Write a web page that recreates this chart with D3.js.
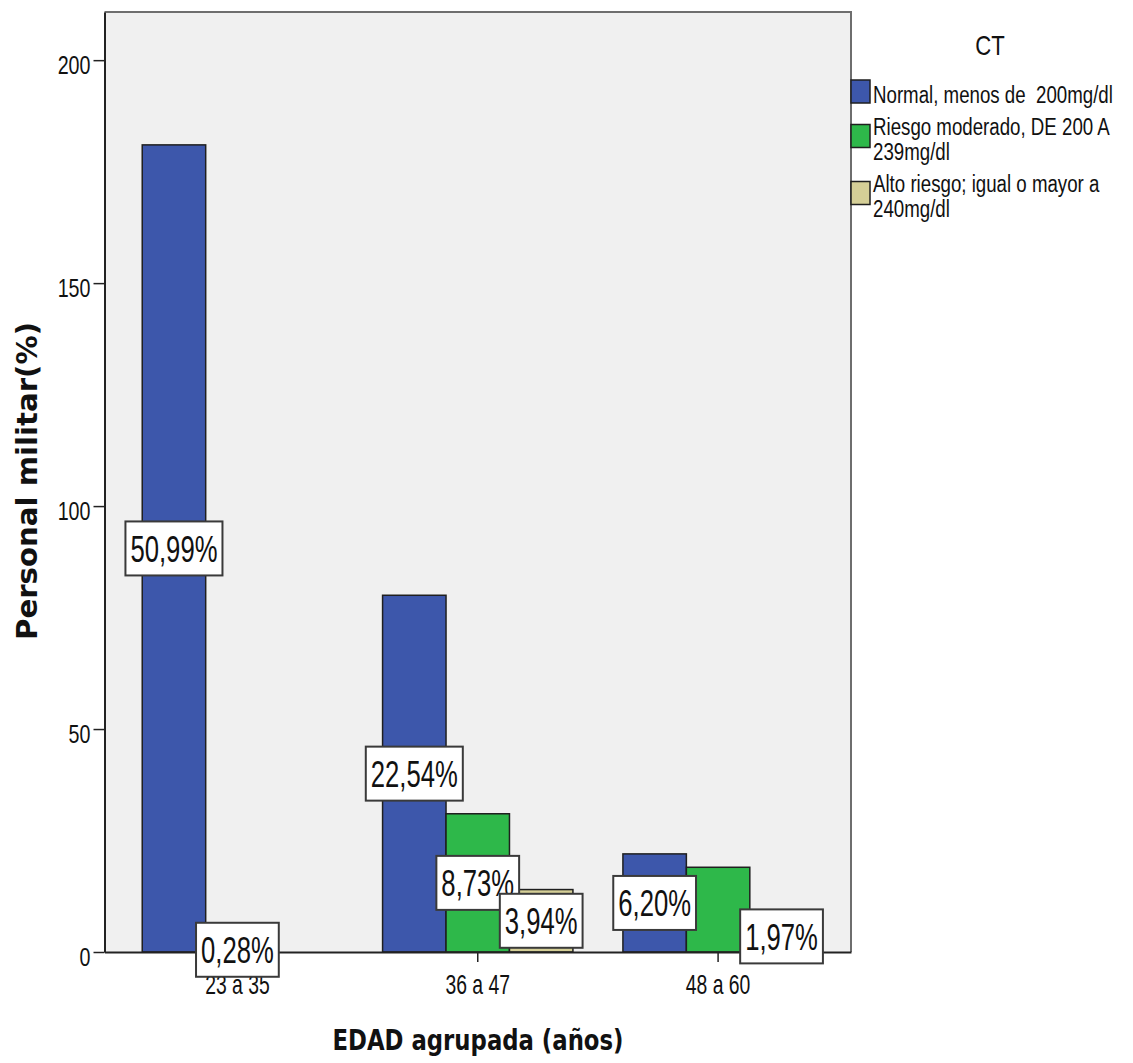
<!DOCTYPE html>
<html>
<head>
<meta charset="utf-8">
<script src="https://cdn.jsdelivr.net/npm/d3@7"></script>
<style>
  html, body { margin: 0; padding: 0; background: #fff; }
  svg { display: block; }
</style>
</head>
<body>
<div id="chart"></div>
<script>
// ---- data ----
const categories = ["23 a 35", "36 a 47", "48 a 60"];
const seriesNames = [
  "Normal, menos de  200mg/dl",
  "Riesgo moderado, DE 200 A 239mg/dl",
  "Alto riesgo; igual o mayor a 240mg/dl"
];
const legendLines = [
  ["Normal, menos de  200mg/dl"],
  ["Riesgo moderado, DE 200 A", "239mg/dl"],
  ["Alto riesgo; igual o mayor a", "240mg/dl"]
];
const normalVals   = [181, 80, 22];
const moderadoVals = [1, 31, 19];
const altoVals     = [0, 14, 7];
// which bar labels are visible (SPSS hid the overlapping ones)
const showNormal   = [true, true, true];
const showModerado = [true, true, false];
const showAlto     = [false, true, true];
const yTicks = [0, 50, 100, 150, 200];
const yMax = 210.8;

const colors = ["#3d57ab", "#2eb84a", "#d5cf97"];

(() => {
  const width = 1133, height = 1063;
  const plot = { left: 104.5, right: 851, top: 12, bottom: 952 };
  const SANS = "'Liberation Sans', Arial, sans-serif";
  const NX = 0.82; // Arial -> Arial Narrow

  const svg = d3.select("#chart").append("svg")
    .attr("width", width).attr("height", height)
    .attr("viewBox", [0, 0, width, height]);

  const series = [
    { key: seriesNames[0], vals: normalVals,   show: showNormal,   color: colors[0] },
    { key: seriesNames[1], vals: moderadoVals, show: showModerado, color: colors[1] },
    { key: seriesNames[2], vals: altoVals,     show: showAlto,     color: colors[2] }
  ];
  const total = d3.sum(series, s => d3.sum(s.vals));

  // ---------- scales ----------
  const x0 = d3.scaleBand()
    .domain(categories)
    .range([plot.left, plot.right])
    .paddingInner(0.208)
    .paddingOuter(0.157);

  const x1 = d3.scaleBand()
    .domain(seriesNames)
    .range([0, x0.bandwidth()]);

  const y = d3.scaleLinear()
    .domain([0, yMax])
    .range([plot.bottom, plot.top]);

  // ---------- frame ----------
  svg.append("rect")
    .attr("x", plot.left).attr("y", plot.top)
    .attr("width", plot.right - plot.left)
    .attr("height", plot.bottom - plot.top)
    .attr("fill", "#f0f0f0");

  svg.append("path")
    .attr("d", `M${plot.left},${plot.top}H${plot.right}V${plot.bottom}`)
    .attr("fill", "none")
    .attr("stroke", "#6e6e6e")
    .attr("stroke-width", 2);

  // ---------- bars ----------
  const flat = [];
  series.forEach(s => categories.forEach((c, i) => {
    flat.push({ cat: c, key: s.key, v: s.vals[i], show: s.show[i], color: s.color });
  }));

  svg.append("g").selectAll("rect")
    .data(flat.filter(d => d.v > 0))
    .join("rect")
    .attr("x", d => x0(d.cat) + x1(d.key))
    .attr("y", d => y(d.v))
    .attr("width", x1.bandwidth())
    .attr("height", d => y(0) - y(d.v))
    .attr("fill", d => d.color)
    .attr("stroke", "#1f1f1f")
    .attr("stroke-width", 1.5);

  // ---------- axes ----------
  const axY = svg.append("g")
    .attr("transform", `translate(${plot.left},0)`)
    .call(d3.axisLeft(y).tickValues(yTicks).tickSize(11).tickSizeOuter(0));
  axY.select(".domain").attr("stroke", "#222").attr("stroke-width", 2);
  axY.selectAll(".tick line").attr("stroke", "#222").attr("stroke-width", 1.5);
  axY.selectAll(".tick text")
    .attr("x", null).attr("dy", null)
    .attr("transform", `translate(-14,13) scale(${NX},1.1)`)
    .attr("text-anchor", "end")
    .attr("fill", "#111")
    .style("font-family", SANS)
    .style("font-size", "24px");

  const axX = svg.append("g")
    .attr("transform", `translate(0,${plot.bottom})`)
    .call(d3.axisBottom(x0).tickSize(10).tickSizeOuter(0));
  axX.select(".domain").attr("stroke", "#222").attr("stroke-width", 2);
  axX.selectAll(".tick line").attr("stroke", "#222").attr("stroke-width", 1.5);
  axX.selectAll(".tick text")
    .attr("y", null).attr("dy", null)
    .attr("transform", `translate(0,42) scale(${NX},1.2)`)
    .attr("text-anchor", "middle")
    .attr("fill", "#111")
    .style("font-family", SANS)
    .style("font-size", "23.6px");

  // ---------- value labels ----------
  const fmtPct = v => (v * 100).toFixed(2).replace(".", ",") + "%";
  const lab = svg.append("g").selectAll("g")
    .data(flat.filter(d => d.show))
    .join("g")
    .attr("transform", d => {
      const cx = x0(d.cat) + x1(d.key) + x1.bandwidth() / 2;
      const cy = (y(d.v) + y(0)) / 2;
      return `translate(${cx},${cy})`;
    });

  lab.each(function(d) {
    const g = d3.select(this);
    const t = g.append("text")
      .attr("transform", `translate(0,13.5) scale(${NX},1.2)`)
      .attr("text-anchor", "middle")
      .attr("fill", "#111")
      .style("font-family", SANS)
      .style("font-size", "31.3px")
      .text(fmtPct(d.v / total));
    const w = t.node().getComputedTextLength() * NX + 10;
    g.insert("rect", "text")
      .attr("x", -w / 2).attr("y", -27)
      .attr("width", w).attr("height", 54)
      .attr("fill", "#fff")
      .attr("stroke", "#3a3a3a")
      .attr("stroke-width", 2);
  });

  // ---------- axis titles ----------
  svg.append("text")
    .attr("x", 478).attr("y", 1050)
    .attr("text-anchor", "middle")
    .attr("textLength", 291)
    .attr("lengthAdjust", "spacingAndGlyphs")
    .attr("fill", "#111")
    .style("font-family", "'DejaVu Sans', sans-serif")
    .style("font-weight", "bold")
    .style("font-size", "28.8px")
    .text("EDAD agrupada (años)");

  svg.append("text")
    .attr("transform", "translate(37,481) rotate(-90)")
    .attr("text-anchor", "middle")
    .attr("textLength", 318)
    .attr("lengthAdjust", "spacingAndGlyphs")
    .attr("fill", "#111")
    .style("font-family", "'DejaVu Sans', sans-serif")
    .style("font-weight", "bold")
    .style("font-size", "28.8px")
    .text("Personal militar(%)");

  // ---------- legend ----------
  const leg = svg.append("g");
  leg.append("text")
    .attr("transform", `translate(990,55) scale(${NX},1.05)`)
    .attr("text-anchor", "middle")
    .attr("fill", "#111")
    .style("font-family", SANS)
    .style("font-size", "27px")
    .text("CT");

  const lineH = 25, capH = 17;
  let base = 103;
  series.forEach((s, i) => {
    const lines = legendLines[i];
    const last = base + (lines.length - 1) * lineH;
    const mid = (base - capH + last) / 2 - 3;
    leg.append("rect")
      .attr("x", 851).attr("y", mid - 11.5)
      .attr("width", 19).attr("height", 23)
      .attr("fill", s.color)
      .attr("stroke", "#1f1f1f")
      .attr("stroke-width", 1.5);
    lines.forEach((ln, j) => {
      leg.append("text")
        .attr("transform", `translate(873,${base + j * lineH}) scale(${NX},1.07)`)
        .attr("fill", "#111")
        .style("white-space", "pre")
        .style("font-family", SANS)
        .style("font-size", "22.8px")
        .text(ln);
    });
    base = last + lineH + 7;
  });
})();
</script>
</body>
</html>
